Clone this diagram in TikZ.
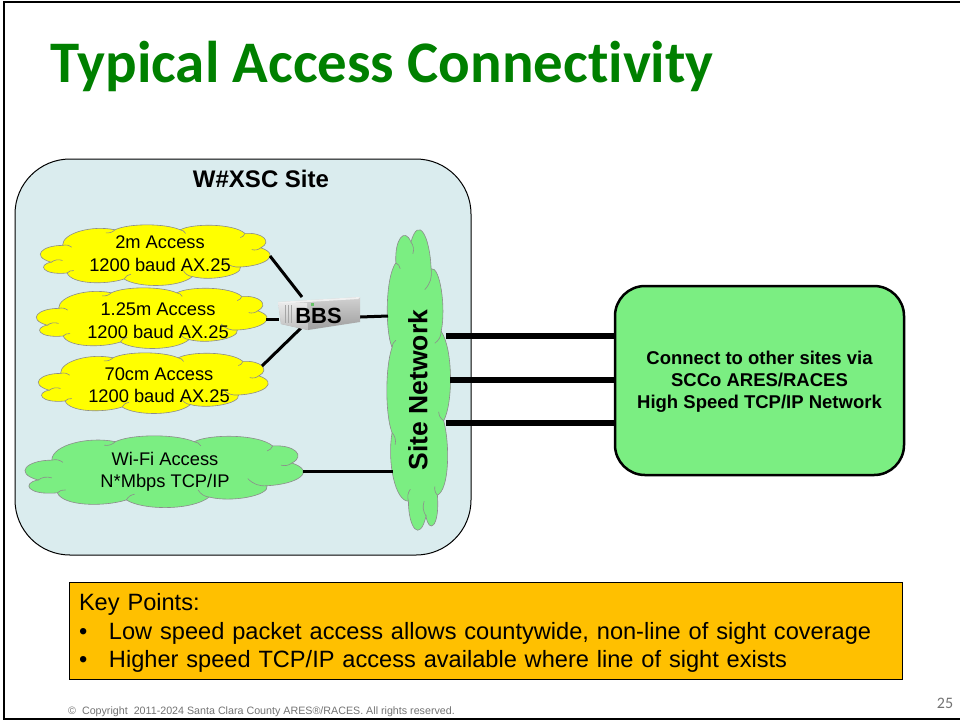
\documentclass[tikz,border=0pt]{standalone}
\usepackage{fontspec}
\setmainfont{Liberation Sans}
\newfontfamily\titlefont[Ligatures=NoCommon]{Carlito}
\definecolor{sitefill}{HTML}{DAECEE}
\definecolor{netgreen}{HTML}{7BEE82}
\definecolor{keyfill}{HTML}{FFC000}
\definecolor{titlegreen}{HTML}{008000}
\definecolor{accessyellow}{HTML}{FFFF00}
\tikzset{
  accesstext/.style={align=center, inner sep=0pt, font=\fontsize{18.3}{22.5}\selectfont},
  blobline/.style={draw=black!45, line width=.6pt},
  link/.style={draw, black, line width=3pt},
  trunk/.style={draw, black, line width=6.5pt}
}
% cloud outline: centre x, centre y, width, height, angle, colour
\newcommand{\accessblob}[6]{
  \begin{scope}[shift={(#1,#2)}, rotate=#5, x=#3pt, y=-#4pt, shift={(-.5,-.5)}]
    \path[blobline, fill=#6] (.09,.34)
      .. controls (.09,.13) and (.22,.00) .. (.32,.08)
      .. controls (.38,-.03) and (.54,-.03) .. (.606,.08)
      .. controls (.66,-.03) and (.84,-.03) .. (.89,.14)
      .. controls (.97,.12) and (1.01,.28) .. (.96,.38)
      .. controls (1.05,.50) and (.98,.68) .. (.87,.70)
      .. controls (.88,.84) and (.74,.94) .. (.66,.86)
      .. controls (.60,1.05) and (.42,1.05) .. (.36,.90)
      .. controls (.28,1.00) and (.13,.99) .. (.11,.80)
      .. controls (.00,.84) and (-.02,.66) .. (.04,.62)
      .. controls (-.05,.52) and (.00,.34) .. (.09,.34) -- cycle;
    \foreach \xa/\ya/\xb/\yb in {.09/.34/.13/.37, .96/.38/.92/.41, .87/.70/.80/.60, .66/.86/.62/.76, .36/.90/.39/.82,
      .11/.80/.14/.76, .04/.62/.09/.59, .32/.08/.28/.13, .606/.08/.63/.14, .89/.14/.87/.21}
      \path[blobline] (\xa,\ya) to[bend left=25] (\xb,\yb);
  \end{scope}
}
\begin{document}
\begin{tikzpicture}[x=1pt,y=-1pt]
  \useasboundingbox (0,0) rectangle (960,721);

  % slide frame
  \coordinate (tl) at (4,2);
  \coordinate (tr) at (960,2);
  \coordinate (bl) at (4,719);
  \coordinate (br) at (960,719);
  \draw[line width=2.2pt] (tr) -- (tl) -- (bl) -- (br);

  \node (title) at (382,66) {\titlefont\bfseries\fontsize{58.9}{64}\selectfont\color{titlegreen}Typical Access Connectivity};

  \node[draw, line width=1pt, fill=sitefill, rounded corners=55pt, minimum width=456pt, minimum height=396pt] (site) at (243,357) {};
  \node[font=\fontsize{24}{28}\selectfont\bfseries] (sitename) at (261,179) {W\#XSC Site};

  \accessblob{156}{255}{228}{60}{0}{accessyellow}
  \accessblob{152.5}{318}{229}{60}{0}{accessyellow}
  \accessblob{154}{383}{228}{60}{0}{accessyellow}
  \accessblob{165}{471.5}{276}{71}{0}{netgreen}
  \accessblob{418.5}{379}{298}{63}{90}{netgreen}

  \begin{scope}[every node/.style={accesstext}]
    \node (twom) at (160,253.5) {2m Access\\1200 baud AX.25};
    \node (onetwofive) at (158,320.5) {1.25m Access\\1200 baud AX.25};
    \node (seventy) at (159,385) {70cm Access\\1200 baud AX.25};
    \node (wifi) at (165,472) {Wi-Fi Access\\N*Mbps TCP/IP};
  \end{scope}
  \node[rotate=90, font=\fontsize{26.5}{30}\selectfont\bfseries] (sitenet) at (418,390) {Site Network};

  % server picture behind the label
  \coordinate (bbsa) at (278,302);
  \coordinate (bbsb) at (360,297);
  \coordinate (bbsc) at (360,322);
  \coordinate (bbsd) at (308,330);
  \coordinate (bbse) at (281,324);
  \coordinate (bbsf) at (307,303);
  \coordinate (twostart) at (270,256);
  \coordinate (twoend) at (302,297);
  \coordinate (onestart) at (266,319);
  \coordinate (oneend) at (279,319);
  \coordinate (sevenstart) at (262,366);
  \coordinate (sevenend) at (301,328);
  \coordinate (bbsout) at (360,317);
  \coordinate (netwest) at (388,316);
  \coordinate (wifistart) at (303,471);
  \coordinate (wifiend) at (393,471);
  \path[link] (twostart) -- (twoend);
  \path[link] (onestart) -- (oneend);
  \path[link] (sevenstart) -- (sevenend);
  \path[link] (bbsout) -- (netwest);
  \path[link] (wifistart) -- (wifiend);
  \shade[top color=black!18, bottom color=black!38] (bbsa) -- (bbsb) -- (bbsc) -- (bbsd) -- (bbse) -- cycle;
  \shade[top color=black!8, bottom color=black!25] (bbsa) -- (bbsf) -- (bbsd) -- (bbse) -- cycle;
  \fill[black!6] (bbsa) -- (bbsb) -- (358,299) -- (283,303.5) -- cycle;
  \foreach \x in {285,288,291}
    \draw[black!35, line width=.5pt] (\x,305) -- (\x,323);
  \fill[green!60!black!60] (311,303) rectangle (314,306);
  \node[font=\fontsize{22}{26}\selectfont\bfseries] (bbs) at (318.5,315.5) {BBS};

  \node[draw, line width=2.5pt, fill=netgreen, rounded corners=30pt, minimum width=289pt, minimum height=189pt] (other) at (759.5,380.5) {};
  \node[align=center, font=\fontsize{18.5}{22}\selectfont\bfseries] (othertext) at (759.5,381.5) {Connect to other sites via\\SCCo ARES/RACES\\High Speed TCP/IP Network};

  \coordinate (trunka) at (446,336);
  \coordinate (trunkb) at (450,380);
  \coordinate (trunkc) at (446,423);
  \path[trunk] (trunka) -- (other.west |- trunka);
  \path[trunk] (trunkb) -- (other.west |- trunkb);
  \path[trunk] (trunkc) -- (other.west |- trunkc);

  \node[draw, line width=.6pt, fill=keyfill, minimum width=833pt, minimum height=97pt, text width=813pt, align=left, inner sep=0pt,
    font=\fontsize{23.6}{28.5}\selectfont] (keys) at (485.5,630.5) {\raisebox{0pt}[22pt][0pt]{Key Points:}\\\makebox[30pt][l]{\textbullet}Low speed packet access allows countywide, non-line of sight coverage\\\makebox[30pt][l]{\textbullet}Higher speed TCP/IP access available where line of sight exists};

  \node[anchor=west, inner sep=0pt, text=black!55, font=\fontsize{10.7}{12}\selectfont] (copy) at (68,711.5) {©\ \ Copyright\ \ 2011-2024 Santa Clara County ARES®/RACES. All rights reserved.};
  \node[text=black!55, font=\titlefont\fontsize{16}{18}\selectfont] (page) at (945,703) {25};
\end{tikzpicture}
\end{document}
